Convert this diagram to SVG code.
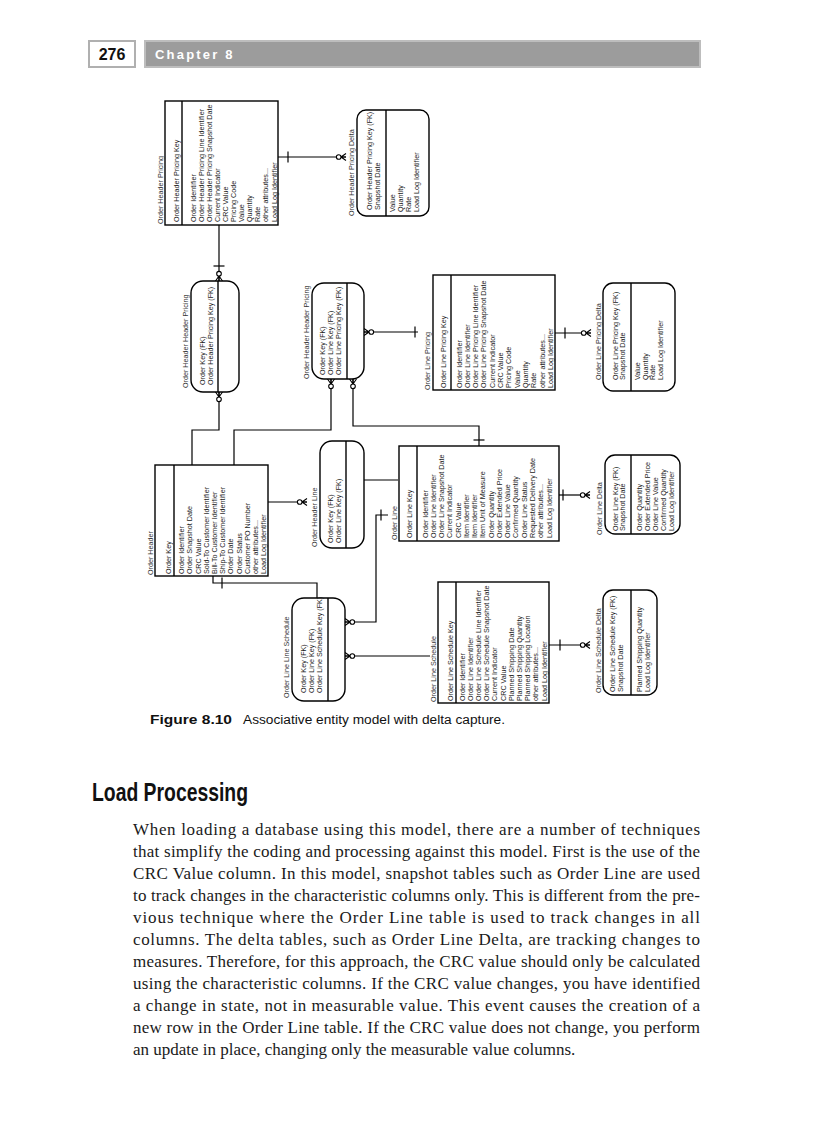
<svg xmlns="http://www.w3.org/2000/svg" xmlns:xlink="http://www.w3.org/1999/xlink" width="816" height="1123" viewBox="0 0 816 1123">
<style>
.box{fill:#fff;stroke:#000;stroke-width:1.4}
.div{stroke:#000;stroke-width:1.4}
.t{font-family:"Liberation Sans",Arial,sans-serif;font-size:7.2px;fill:#1a1a1a}
.ti{font-family:"Liberation Sans",Arial,sans-serif;font-size:7.2px;fill:#333}
.body{font-family:"Liberation Serif","Times New Roman",serif;font-size:17px;fill:#1a1a1a}
.cn{fill:none;stroke:#000;stroke-width:1.2}
</style>
<defs>
<g id="zm" fill="none" stroke="#000" stroke-width="1.1">
<path d="M-5,0 L0,-3.5 M-5,0 L0,3.5 M-5,0 L0,0"/>
<circle cx="-7.3" cy="0" r="2.3" fill="#fff"/>
</g>
<line id="bar" x1="0" y1="-5.5" x2="0" y2="5.5" stroke="#000" stroke-width="1.2"/>
</defs>
<rect width="816" height="1123" fill="#fff"/>

<!-- page header -->
<g id="header">
<rect x="89" y="41" width="46" height="26" fill="#fff" stroke="#b0b0b0" stroke-width="2"/>
<text x="112" y="60" text-anchor="middle" font-family="Liberation Sans,Arial,sans-serif" font-weight="bold" font-size="16" fill="#111">276</text>
<rect x="145" y="41" width="555" height="26" fill="#9c9c9c" stroke="#bdbdbd" stroke-width="2"/>
<text x="155" y="59" font-family="Liberation Sans,Arial,sans-serif" font-weight="bold" font-size="13" letter-spacing="2.2" fill="#fff">Chapter 8</text>
</g>

<!-- connectors -->
<g id="connectors">
<path class="cn" d="M278,157 H346"/>
<use xlink:href="#bar" x="288" y="157"/>
<use xlink:href="#zm" transform="translate(346,157)"/>

<path class="cn" d="M219,225 V281"/>
<use xlink:href="#bar" transform="translate(219,266) rotate(90)"/>
<use xlink:href="#zm" transform="translate(219,281) rotate(90)"/>

<path class="cn" d="M219,392 V430 H192 V465"/>
<use xlink:href="#zm" transform="translate(219,392) rotate(-90)"/>

<path class="cn" d="M364,332 H418"/>
<use xlink:href="#bar" x="415" y="332"/>
<use xlink:href="#zm" transform="translate(364,332) rotate(180)"/>

<path class="cn" d="M331,379 V430 H234 V465"/>
<use xlink:href="#zm" transform="translate(331,379) rotate(-90)"/>

<path class="cn" d="M353,379 V426 H479 V446"/>
<use xlink:href="#zm" transform="translate(353,379) rotate(-90)"/>
<use xlink:href="#bar" transform="translate(479,440) rotate(90)"/>

<path class="cn" d="M555,333 H591"/>
<use xlink:href="#bar" x="565" y="333"/>
<use xlink:href="#zm" transform="translate(591,333)"/>

<path class="cn" d="M268,502 H307"/>
<use xlink:href="#zm" transform="translate(307,502)"/>

<path class="cn" d="M364,480 H398"/>

<path class="cn" d="M388,515 H376 V622 H345"/>
<use xlink:href="#bar" x="381" y="515"/>
<use xlink:href="#zm" transform="translate(345,622) rotate(180)"/>

<path class="cn" d="M345,656 H430"/>
<use xlink:href="#zm" transform="translate(345,656) rotate(180)"/>

<path class="cn" d="M549,645 H590"/>
<use xlink:href="#bar" x="560" y="645"/>
<use xlink:href="#zm" transform="translate(590,645)"/>

<path class="cn" d="M559,495 H590"/>
<use xlink:href="#bar" x="563" y="495"/>
<use xlink:href="#zm" transform="translate(590,495)"/>

<path class="cn" d="M213,576 V583 H317 V598"/>
<use xlink:href="#bar" x="222" y="583"/>
</g>

<!-- Order Header Pricing -->
<g id="order-header-pricing">
<rect class="box" x="165" y="101" width="113" height="124"/>
<line class="div" x1="182" y1="101" x2="182" y2="225"/>
<g transform="translate(0,225) rotate(-90)">
<text class="ti" x="1" y="162.5">Order Header Pricing</text>
<text class="t" x="3" y="178.5">Order Header Pricing Key</text>
<text class="t" x="3" y="195.5"><tspan x="3">Order Identifier</tspan><tspan x="3" dy="8.1">Order Header Pricing Line Identifier</tspan><tspan x="3" dy="8.1">Order Header Pricing Snapshot Date</tspan><tspan x="3" dy="8.1">Current Indicator</tspan><tspan x="3" dy="8.1">CRC Value</tspan><tspan x="3" dy="8.1">Pricing Code</tspan><tspan x="3" dy="8.1">Value</tspan><tspan x="3" dy="8.1">Quantity</tspan><tspan x="3" dy="8.1">Rate</tspan><tspan x="3" dy="8.1">other attributes...</tspan><tspan x="3" dy="8.1">Load Log Identifier</tspan></text>
</g>
</g>

<!-- Order Header Pricing Delta -->
<g id="order-header-pricing-delta">
<rect class="box" x="357" y="110" width="72" height="106" rx="9"/>
<line class="div" x1="386" y1="110" x2="386" y2="216"/>
<g transform="translate(0,216) rotate(-90)">
<text class="ti" x="0" y="354">Order Header Pricing Delta</text>
<text class="t" x="6" y="371.5"><tspan x="6">Order Header Pricing Key (FK)</tspan><tspan x="6" dy="8">Snapshot Date</tspan></text>
<text class="t" x="4" y="394.5"><tspan x="4">Value</tspan><tspan x="4" dy="8">Quantity</tspan><tspan x="4" dy="8">Rate</tspan><tspan x="4" dy="8">Load Log Identifier</tspan></text>
</g>
</g>

<!-- Order Header Header Pricing (left) -->
<g id="order-header-header-pricing-1">
<rect class="box" x="191" y="281" width="48" height="111" rx="12"/>
<line class="div" x1="218" y1="281" x2="218" y2="392"/>
<g transform="translate(0,392) rotate(-90)">
<text class="ti" x="4" y="187.5">Order Header Header Pricing</text>
<text class="t" x="7" y="205"><tspan x="7">Order Key (FK)</tspan><tspan x="7" dy="7.8">Order Header Pricing Key (FK)</tspan></text>
</g>
</g>

<!-- Order Header Header Pricing (middle) -->
<g id="order-header-header-pricing-2">
<rect class="box" x="312" y="283" width="52" height="96" rx="12"/>
<line class="div" x1="347" y1="283" x2="347" y2="379"/>
<g transform="translate(0,379) rotate(-90)">
<text class="ti" x="0" y="309">Order Header Header Pricing</text>
<text class="t" x="4" y="324.5"><tspan x="4">Order Key (FK)</tspan><tspan x="4" dy="8">Order Line Key (FK)</tspan><tspan x="4" dy="8">Order Line Pricing Key (FK)</tspan></text>
</g>
</g>

<!-- Order Line Pricing -->
<g id="order-line-pricing">
<rect class="box" x="433" y="275" width="122" height="115"/>
<line class="div" x1="451" y1="275" x2="451" y2="390"/>
<g transform="translate(0,390) rotate(-90)">
<text class="ti" x="0" y="429.5">Order Line Pricing</text>
<text class="t" x="2" y="445.5">Order Line Pricing Key</text>
<text class="t" x="2" y="461.5"><tspan x="2">Order Identifier</tspan><tspan x="2" dy="8.3">Order Line Identifier</tspan><tspan x="2" dy="8.3">Order Line Pricing Line Identifier</tspan><tspan x="2" dy="8.3">Order Line Pricing Snapshot Date</tspan><tspan x="2" dy="8.3">Current Indicator</tspan><tspan x="2" dy="8.3">CRC Value</tspan><tspan x="2" dy="8.3">Pricing Code</tspan><tspan x="2" dy="8.3">Value</tspan><tspan x="2" dy="8.3">Quantity</tspan><tspan x="2" dy="8.3">Rate</tspan><tspan x="2" dy="8.3">other attributes...</tspan><tspan x="2" dy="8.3">Load Log Identifier</tspan></text>
</g>
</g>

<!-- Order Line Pricing Delta -->
<g id="order-line-pricing-delta">
<rect class="box" x="603" y="283" width="72" height="108" rx="10"/>
<line class="div" x1="631" y1="283" x2="631" y2="391"/>
<g transform="translate(0,391) rotate(-90)">
<text class="ti" x="11" y="600.5">Order Line Pricing Delta</text>
<text class="t" x="11" y="617.5"><tspan x="11">Order Line Pricing Key (FK)</tspan><tspan x="11" dy="7.5">Snapshot Date</tspan></text>
<text class="t" x="11" y="640"><tspan x="11">Value</tspan><tspan x="11" dy="7.5">Quantity</tspan><tspan x="11" dy="7.5">Rate</tspan><tspan x="11" dy="7.5">Load Log Identifier</tspan></text>
</g>
</g>

<!-- Order Header -->
<g id="order-header">
<rect class="box" x="155" y="465" width="113" height="111"/>
<line class="div" x1="174" y1="465" x2="174" y2="576"/>
<g transform="translate(0,576) rotate(-90)">
<text class="ti" x="1" y="152.5">Order Header</text>
<text class="t" x="2" y="170.8">Order Key</text>
<text class="t" x="2" y="184.2"><tspan x="2">Order Identifier</tspan><tspan x="2" dy="8.2">Order Snapshot Date</tspan><tspan x="2" dy="8.2">CRC Value</tspan><tspan x="2" dy="8.2">Sold-To Customer Identifier</tspan><tspan x="2" dy="8.2">Bill-To Customer Identifier</tspan><tspan x="2" dy="8.2">Ship-To Customer Identifier</tspan><tspan x="2" dy="8.2">Order Date</tspan><tspan x="2" dy="8.2">Order Status</tspan><tspan x="2" dy="8.2">Customer PO Number</tspan><tspan x="2" dy="8.2">other attributes...</tspan><tspan x="2" dy="8.2">Load Log Identifier</tspan></text>
</g>
</g>

<!-- Order Header Line -->
<g id="order-header-line">
<rect class="box" x="320" y="441" width="44" height="107" rx="12"/>
<line class="div" x1="346" y1="441" x2="346" y2="548"/>
<g transform="translate(0,548) rotate(-90)">
<text class="ti" x="1" y="316.5">Order Header Line</text>
<text class="t" x="5" y="332.5"><tspan x="5">Order Key (FK)</tspan><tspan x="5" dy="8">Order Line Key (FK)</tspan></text>
</g>
</g>

<!-- Order Line -->
<g id="order-line">
<rect class="box" x="399" y="446" width="160" height="95"/>
<line class="div" x1="417" y1="446" x2="417" y2="541"/>
<g transform="translate(0,541) rotate(-90)">
<text class="ti" x="1" y="396.5">Order Line</text>
<text class="t" x="3" y="411.5">Order Line Key</text>
<text class="t" x="3" y="427.5"><tspan x="3">Order Identifier</tspan><tspan x="3" dy="8.27">Order Line Identifier</tspan><tspan x="3" dy="8.27">Order Line Snapshot Date</tspan><tspan x="3" dy="8.27">Current Indicator</tspan><tspan x="3" dy="8.27">CRC Value</tspan><tspan x="3" dy="8.27">Item Identifier</tspan><tspan x="3" dy="8.27">Item Identifier</tspan><tspan x="3" dy="8.27">Item Unit of Measure</tspan><tspan x="3" dy="8.27">Order Quantity</tspan><tspan x="3" dy="8.27">Order Extended Price</tspan><tspan x="3" dy="8.27">Order Line Value</tspan><tspan x="3" dy="8.27">Confirmed Quantity</tspan><tspan x="3" dy="8.27">Order Line Status</tspan><tspan x="3" dy="8.27">Requested Delivery Date</tspan><tspan x="3" dy="8.27">other attributes...</tspan><tspan x="3" dy="8.27">Load Log Identifier</tspan></text>
</g>
</g>

<!-- Order Line Delta -->
<g id="order-line-delta">
<rect class="box" x="605" y="455" width="75" height="79" rx="10"/>
<line class="div" x1="631" y1="455" x2="631" y2="534"/>
<g transform="translate(0,534) rotate(-90)">
<text class="ti" x="-1" y="601.5">Order Line Delta</text>
<text class="t" x="3" y="617.5"><tspan x="3">Order Line Key (FK)</tspan><tspan x="3" dy="7.5">Snapshot Date</tspan></text>
<text class="t" x="3" y="642"><tspan x="3">Order Quantity</tspan><tspan x="3" dy="8.1">Order Extended Price</tspan><tspan x="3" dy="8.1">Order Line Value</tspan><tspan x="3" dy="8.1">Confirmed Quantity</tspan><tspan x="3" dy="8.1">Load Log Identifier</tspan></text>
</g>
</g>

<!-- Order Line Line Schedule -->
<g id="order-line-line-schedule">
<rect class="box" x="292" y="598" width="53" height="103" rx="12"/>
<line class="div" x1="328" y1="598" x2="328" y2="701"/>
<g transform="translate(0,701) rotate(-90)">
<text class="ti" x="3" y="288.5">Order Line Line Schedule</text>
<text class="t" x="8" y="305.5"><tspan x="8">Order Key (FK)</tspan><tspan x="8" dy="8">Order Line Key (FK)</tspan><tspan x="8" dy="8">Order Line Schedule Key (FK)</tspan></text>
</g>
</g>

<!-- Order Line Schedule -->
<g id="order-line-schedule">
<rect class="box" x="438" y="582" width="111" height="121"/>
<line class="div" x1="456" y1="582" x2="456" y2="703"/>
<g transform="translate(0,703) rotate(-90)">
<text class="ti" x="1" y="435.5">Order Line Schedule</text>
<text class="t" x="2" y="452.5">Order Line Schedule Key</text>
<text class="t" x="2" y="464.5"><tspan x="2">Order Identifier</tspan><tspan x="2" dy="8.2">Order Line Identifier</tspan><tspan x="2" dy="8.2">Order Line Schedule Line Identifier</tspan><tspan x="2" dy="8.2">Order Line Schedule Snapshot Date</tspan><tspan x="2" dy="8.2">Current Indicator</tspan><tspan x="2" dy="8.2">CRC Value</tspan><tspan x="2" dy="8.2">Planned Shipping Date</tspan><tspan x="2" dy="8.2">Planned Shipping Quantity</tspan><tspan x="2" dy="8.2">Planned Shipping Location</tspan><tspan x="2" dy="8.2">other attributes...</tspan><tspan x="2" dy="8.2">Load Log Identifier</tspan></text>
</g>
</g>

<!-- Order Line Schedule Delta -->
<g id="order-line-schedule-delta">
<rect class="box" x="603" y="590" width="54" height="105" rx="10"/>
<line class="div" x1="631" y1="590" x2="631" y2="695"/>
<g transform="translate(0,695) rotate(-90)">
<text class="ti" x="2" y="600.5">Order Line Schedule Delta</text>
<text class="t" x="3" y="615"><tspan x="3">Order Line Schedule Key (FK)</tspan><tspan x="3" dy="7.5">Snapshot Date</tspan></text>
<text class="t" x="3" y="642"><tspan x="3">Planned Shipping Quantity</tspan><tspan x="3" dy="7.5">Load Log Identifier</tspan></text>
</g>
</g>

<!-- caption -->
<g id="caption">
<text x="150" y="724" font-family="Liberation Sans,Arial,sans-serif" font-weight="bold" font-size="13.5" fill="#111" textLength="82" lengthAdjust="spacingAndGlyphs">Figure 8.10</text>
<text x="243" y="724" font-family="Liberation Sans,Arial,sans-serif" font-size="12.5" fill="#111" textLength="262" lengthAdjust="spacingAndGlyphs">Associative entity model with delta capture.</text>
</g>

<!-- body -->
<g id="body">
<text x="92" y="801" font-family="Liberation Sans,Arial,sans-serif" font-weight="bold" font-size="25" fill="#111" textLength="156" lengthAdjust="spacingAndGlyphs">Load Processing</text>
<text class="body" x="133" y="835" textLength="567" lengthAdjust="spacing">When loading a database using this model, there are a number of techniques</text>
<text class="body" x="133" y="857" textLength="567" lengthAdjust="spacing">that simplify the coding and processing against this model. First is the use of the</text>
<text class="body" x="133" y="879" textLength="567" lengthAdjust="spacing">CRC Value column. In this model, snapshot tables such as Order Line are used</text>
<text class="body" x="133" y="901" textLength="567" lengthAdjust="spacing">to track changes in the characteristic columns only. This is different from the pre-</text>
<text class="body" x="133" y="923" textLength="567" lengthAdjust="spacing">vious technique where the Order Line table is used to track changes in all</text>
<text class="body" x="133" y="945" textLength="567" lengthAdjust="spacing">columns. The delta tables, such as Order Line Delta, are tracking changes to</text>
<text class="body" x="133" y="967" textLength="567" lengthAdjust="spacing">measures. Therefore, for this approach, the CRC value should only be calculated</text>
<text class="body" x="133" y="989" textLength="567" lengthAdjust="spacing">using the characteristic columns. If the CRC value changes, you have identified</text>
<text class="body" x="133" y="1011" textLength="567" lengthAdjust="spacing">a change in state, not in measurable value. This event causes the creation of a</text>
<text class="body" x="133" y="1033" textLength="567" lengthAdjust="spacing">new row in the Order Line table. If the CRC value does not change, you perform</text>
<text class="body" x="133" y="1055">an update in place, changing only the measurable value columns.</text>
</g>
</svg>
